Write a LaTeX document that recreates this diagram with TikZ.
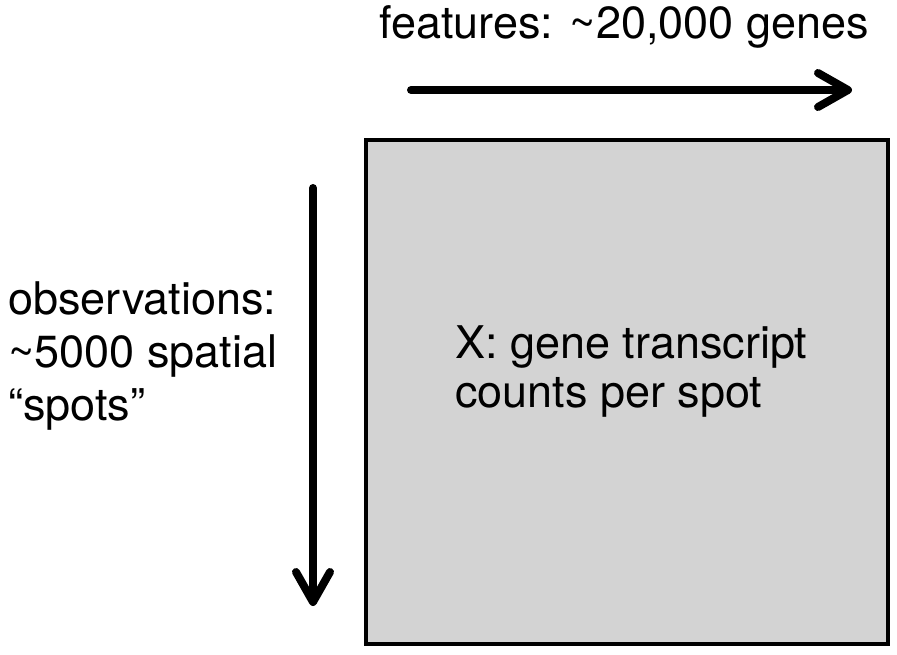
\documentclass[tikz,border=0pt]{standalone}
\usepackage{fontspec}
\setmainfont{TeX Gyre Heros}
\usetikzlibrary{arrows.meta}
\usetikzlibrary{positioning}
\definecolor{boxgray}{RGB}{211,211,211}

\begin{document}
\begin{tikzpicture}[x=1pt,y=-1pt,
    axis arrow/.style={draw, line width=8pt, line cap=round,
        -{Straight Barb[length=30pt,width=34pt,line cap=round,line join=round]}},
    data box/.style={draw, line width=3.5pt, fill=boxgray, inner sep=0pt,
        minimum width=522pt, minimum height=504pt},
    big label/.style={inner sep=0pt, align=left, anchor=base west,
        font=\fontsize{45}{53}\selectfont}]
    \useasboundingbox (0,0) rectangle (897,654);
    \node [data box] (X) at (627,392) {};
    \node [big label, font=\fontsize{45}{49}\selectfont] (Xtext) at (455,407) {X: gene transcript\\counts per spot};
    \node [big label] (features) at (379,38) {features: \textasciitilde 20,000 genes};
    \node [big label] (observations) at (8,420) {observations:\\\textasciitilde 5000 spatial\\“spots”};
    \coordinate (feat start) at (411,90);
    \coordinate (feat end) at (852,90);
    \coordinate (obs start) at (313,188);
    \coordinate (obs end) at (313,606);
    \draw [axis arrow] (feat start) -- (feat end);
    \draw [axis arrow] (obs start) -- (obs end);
\end{tikzpicture}
\end{document}
